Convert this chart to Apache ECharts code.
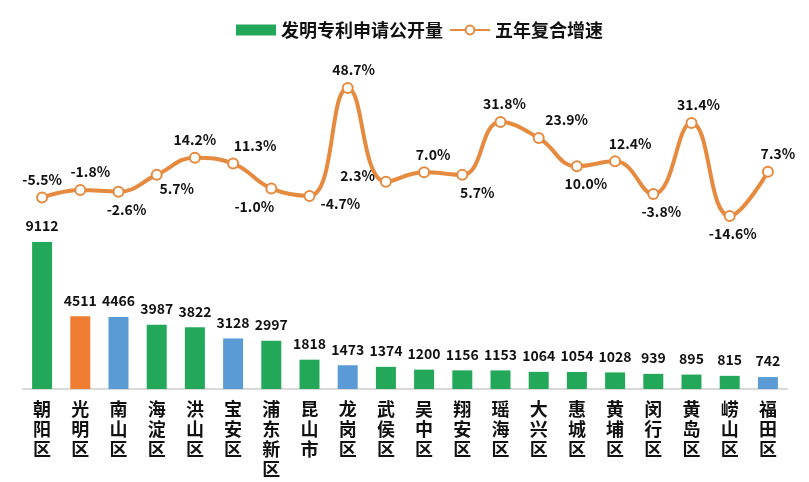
<!DOCTYPE html>
<html>
<head>
<meta charset="utf-8">
<script src="https://cdn.jsdelivr.net/npm/echarts@6/dist/echarts.min.js"></script>
<style>html,body{margin:0;padding:0;background:#fff;}#c{width:809px;height:482px;}</style>
</head>
<body>
<div id="c"></div>
<script>
const categories = ['朝阳区','光明区','南山区','海淀区','洪山区','宝安区','浦东新区','昆山市','龙岗区','武侯区','吴中区','翔安区','瑶海区','大兴区','惠城区','黄埔区','闵行区','黄岛区','崂山区','福田区'];
const patentCounts = [9112,4511,4466,3987,3822,3128,2997,1818,1473,1374,1200,1156,1153,1064,1054,1028,939,895,815,742];
const growthRates = [-5.5,-1.8,-2.6,5.7,14.2,11.3,-1.0,-4.7,48.7,2.3,7.0,5.7,31.8,23.9,10.0,12.4,-3.8,31.4,-14.6,7.3];
const groups = ['other','guangming','shenzhen','other','other','shenzhen','other','other','shenzhen','other','other','other','other','other','other','other','other','other','other','shenzhen'];

const groupColor = {other:'#23A85A', guangming:'#EE7D31', shenzhen:'#5B9BD5'};
const labelPlace = [
  ['top',[0,0]],['top',[10,0]],['bottom',[8,0]],['bottom',[20,-4]],['top',[0,0]],
  ['top',[22,0]],['bottom',[-17,0]],['right',[0,8]],['top',[6,0]],['left',[0,-6]],
  ['top',[9,0]],['bottom',[15,0]],['top',[4,0]],['top',[28,0]],['bottom',[9,0]],
  ['top',[15,0]],['bottom',[8,0]],['top',[7,0]],['bottom',[3,0]],['top',[10,0]]
];
const FONT = '"Noto Sans CJK SC", "Noto Sans", sans-serif';

const chart = echarts.init(document.getElementById('c'), null, {renderer:'canvas'});
chart.setOption({
  animation:false,
  backgroundColor:'#fff',
  textStyle:{fontFamily:FONT},
  legend:{
    top:16, left:231, itemGap:6, itemWidth:40, itemHeight:11,
    textStyle:{fontSize:18, fontWeight:'bold', color:'#111', fontFamily:FONT},
    data:[{name:'发明专利申请公开量', icon:'rect', itemStyle:{color:'#23A85A'}}, {name:'五年复合增速'}]
  },
  grid:{left:23, right:22, top:40, bottom:93},
  xAxis:{
    type:'category', data:categories,
    axisLine:{lineStyle:{color:'#D9D9D9', width:2}},
    axisTick:{show:false},
    axisLabel:{
      interval:0, margin:10, fontSize:18, fontWeight:'bold', color:'#111', lineHeight:20, fontFamily:FONT,
      formatter:v=>v.split('').join('\n')
    }
  },
  yAxis:[
    {type:'value', min:0, max:21634, show:false, splitLine:{show:false}},
    {type:'value', min:-100.2, max:72.4, show:false, splitLine:{show:false}}
  ],
  series:[
    {
      name:'发明专利申请公开量', type:'bar', barWidth:20, yAxisIndex:0,
      data:patentCounts.map((v,i)=>({value:v, itemStyle:{color:groupColor[groups[i]]}})),
      itemStyle:{color:'#23A85A'},
      label:{show:true, position:'top', distance:9, fontSize:14, fontWeight:'bold', color:'#111', fontFamily:FONT}
    },
    {
      name:'五年复合增速', type:'line', yAxisIndex:1, smooth:0.45,
      symbol:'circle', symbolSize:10,
      lineStyle:{color:'#E58A3F', width:4},
      itemStyle:{color:'#fff', borderColor:'#E58A3F', borderWidth:2},
      data:growthRates.map((v,i)=>({value:v, label:{position:labelPlace[i][0], offset:labelPlace[i][1]}})),
      label:{show:true, fontSize:14, fontWeight:'bold', color:'#111', fontFamily:FONT, distance:5,
        formatter:p=>p.value.toFixed(1)+'%'},
      z:3
    }
  ]
});
</script>
</body>
</html>
